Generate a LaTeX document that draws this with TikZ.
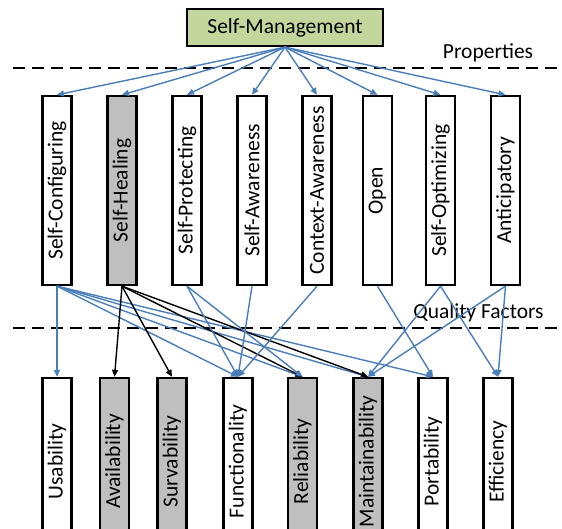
\documentclass[tikz,border=0pt]{standalone}
\usepackage{fontspec}
\setmainfont{Carlito}
\usetikzlibrary{arrows.meta}
\definecolor{linkblue}{RGB}{74,126,187}
\definecolor{rootgreen}{RGB}{195,214,155}
\definecolor{shade}{RGB}{191,191,191}
\begin{document}
\begin{tikzpicture}[x=1pt,y=-1pt,
  lbl/.style={font=\fontsize{21.5}{24}\selectfont},
  root/.style={lbl,draw=black,line width=2.3pt,fill=rootgreen,minimum width=196pt,minimum height=37pt,inner sep=0pt},
  prop/.style={lbl,draw=black,line width=2.3pt,fill=white,minimum width=29pt,minimum height=189pt,inner sep=0pt},
  qual/.style={prop,minimum height=167pt},
  marked/.style={fill=shade},
  sep/.style={line width=2.3pt,dash pattern=on 12pt off 7pt},
  link/.style={linkblue,line width=1.4pt,-{Triangle[length=7pt,width=6pt]}},
  hard/.style={black,line width=1.4pt,-{Triangle[length=7pt,width=6pt]}}]
\useasboundingbox (0,0) rectangle (562,529);
\clip (0,0) rectangle (562,529);

% layer separators and their captions
\coordinate (s1a) at (13,68);
\coordinate (s1b) at (562,68);
\coordinate (s2a) at (13,328);
\coordinate (s2b) at (562,328);
\draw[sep] (s1a) -- (s1b);
\draw[sep] (s2a) -- (s2b);
\node[lbl,anchor=base] (propcap) at (488,58.5) {Properties};
\node[lbl,anchor=base] (qualcap) at (478.5,318) {Quality Factors};

% root
\node[root] (sm) at (285,27.5) {Self-Management};

% properties
\node[prop] (sc) at (57,190.5) {\rotatebox{90}{Self-Configuring}};
\node[prop,marked] (sh) at (122,190.5) {\rotatebox{90}{Self-Healing}};
\node[prop] (sp) at (187,190.5) {\rotatebox{90}{Self-Protecting}};
\node[prop] (sa) at (252,190.5) {\rotatebox{90}{Self-Awareness}};
\node[prop] (ca) at (317,190.5) {\rotatebox{90}{Context-Awareness}};
\node[prop] (op) at (377.5,190.5) {\rotatebox{90}{Open}};
\node[prop] (so) at (440.5,190.5) {\rotatebox{90}{Self-Optimizing}};
\node[prop] (an) at (505.5,190.5) {\rotatebox{90}{Anticipatory}};

% quality factors
\node[qual] (us) at (57,461.5) {\rotatebox{90}{Usability}};
\node[qual,marked] (av) at (114.5,461.5) {\rotatebox{90}{Availability}};
\node[qual,marked] (su) at (172,461.5) {\rotatebox{90}{Survability}};
\node[qual] (fu) at (238,461.5) {\rotatebox{90}{Functionality}};
\node[qual,marked] (re) at (302.5,461.5) {\rotatebox{90}{Reliability}};
\node[qual,marked] (ma) at (368,461.5) {\rotatebox{90}{Maintainability}};
\node[qual] (po) at (433,461.5) {\rotatebox{90}{Portability}};
\node[qual] (ef) at (498,461.5) {\rotatebox{90}{Efficiency}};

% root to properties
\foreach \p in {sc,sh,sp,sa,ca,op,so,an}
  \draw[link] (sm.south) -- (\p.north);

% properties to quality factors
\foreach \q in {us,fu,re,ma,po}
  \draw[link] (sc.south) -- (\q.north);
\foreach \q in {av,su,re,ma}
  \draw[hard] (sh.south) -- (\q.north);
\foreach \q in {fu,re}
  \draw[link] (sp.south) -- (\q.north);
\draw[link] (sa.south) -- (fu.north);
\draw[link] (ca.south) -- (fu.north);
\draw[link] (op.south) -- (po.north);
\foreach \q in {ma,ef}
  \draw[link] (so.south) -- (\q.north);
\foreach \q in {ma,ef}
  \draw[link] (an.south) -- (\q.north);
\end{tikzpicture}
\end{document}
